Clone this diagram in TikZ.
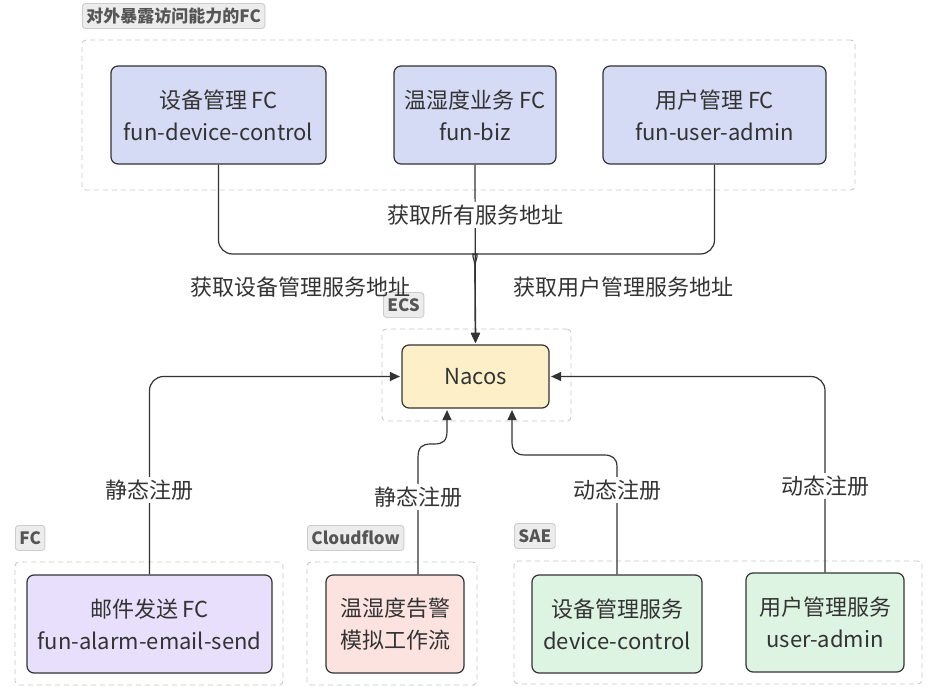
\documentclass[tikz,border=0pt]{standalone}
\usepackage{fontspec}
\setmainfont{Noto Sans CJK SC}
\usetikzlibrary{arrows.meta}
\definecolor{edge}{HTML}{333333}
\definecolor{txt}{HTML}{333333}
\definecolor{fcblue}{HTML}{D5DBF5}
\definecolor{nacosy}{HTML}{FDF0C9}
\definecolor{mailv}{HTML}{E7DFFB}
\definecolor{cfpink}{HTML}{FDE3E0}
\definecolor{saeg}{HTML}{DCF4E1}
\definecolor{grpline}{HTML}{C8C8C8}
\definecolor{tagline}{HTML}{CDCDCD}
\definecolor{tagfill}{HTML}{ECECEC}
\definecolor{tagtxt}{HTML}{555555}
\begin{document}
\begin{tikzpicture}[x=1pt,y=-1pt,
  box/.style={draw=edge, line width=1.2pt, rounded corners=7pt, align=center, inner sep=0pt, font=\fontsize{22}{32}\selectfont, text=txt},
  grp/.style={draw=grpline, dash pattern=on 5pt off 4pt, line width=0.9pt, rounded corners=4pt, inner sep=0pt},
  tag/.style={draw=tagline, fill=tagfill, rounded corners=3pt, line width=0.9pt, font=\bfseries\fontsize{17}{20}\selectfont, text=tagtxt, inner xsep=4pt, inner ysep=0pt, minimum height=25pt, anchor=west},
  lbl/.style={fill=white, inner sep=3pt, font=\fontsize{22}{24}\selectfont, text=txt},
  conn/.style={draw=edge, line width=1.2pt},
  arr/.style={conn, -{Triangle[length=10pt,width=9pt]}, shorten >=1.5pt}
]
\useasboundingbox[fill=white] (0,0) rectangle (927,687);

% groups and tags
\node[tag] (tagtop) at (82,16) {对外暴露访问能力的FC};
\node[grp, minimum width=773pt, minimum height=150pt] (gtop) at (468.5,115) {};
\node[tag] (tagecs) at (383,305) {ECS};
\node[grp, minimum width=189pt, minimum height=92pt] (gecs) at (476.5,375) {};
\node[tag] (tagfc) at (15,538) {FC};
\node[grp, minimum width=268pt, minimum height=123pt] (gfc) at (149,623.5) {};
\node[tag] (tagcf) at (307,538) {Cloudflow};
\node[grp, minimum width=170pt, minimum height=123pt] (gcf) at (392,623.5) {};
\node[tag] (tagsae) at (514,536) {SAE};
\node[grp, minimum width=408pt, minimum height=123pt] (gsae) at (718,622.5) {};

% boxes
\node[box, fill=fcblue, minimum width=215pt, minimum height=98pt] (b1) at (218.5,115) {设备管理 FC\\fun-device-control};
\node[box, fill=fcblue, minimum width=162pt, minimum height=98pt] (b2) at (475,115) {温湿度业务 FC\\fun-biz};
\node[box, fill=fcblue, minimum width=223pt, minimum height=98pt] (b3) at (714.5,115) {用户管理 FC\\fun-user-admin};
\node[box, fill=nacosy, minimum width=147pt, minimum height=63pt] (nacos) at (475.5,376.5) {Nacos};
\node[box, fill=mailv, minimum width=245pt, minimum height=98pt] (mail) at (149.5,624) {邮件发送 FC\\fun-alarm-email-send};
\node[box, fill=cfpink, minimum width=138pt, minimum height=98pt] (cf) at (395,624) {温湿度告警\\模拟工作流};
\node[box, fill=saeg, minimum width=170pt, minimum height=98pt] (dc) at (617,624) {设备管理服务\\device-control};
\node[box, fill=saeg, minimum width=158pt, minimum height=99pt] (ua) at (825,622.5) {用户管理服务\\user-admin};

% top connectors
\draw[arr] (b1.south) [rounded corners=14pt] -- (218.5,254) -- (461,254) [sharp corners] .. controls (470,254) and (475,258) .. (475,268) -- (nacos.north);
\draw[arr] (b3.south) [rounded corners=14pt] -- (714.5,254) -- (489,254) [sharp corners] .. controls (480,254) and (475,258) .. (475,268) -- (nacos.north);
\draw[arr] (b2.south) -- (nacos.north);
\node[lbl] (l1) at (475,215) {获取所有服务地址};
\node[lbl, fill=none] (l2) at (300,287) {获取设备管理服务地址};
\node[lbl, fill=none] (l3) at (623,287) {获取用户管理服务地址};

% registrations
\draw[arr, rounded corners=14pt] (mail.north) |- (nacos.west);
\node[lbl] (l4) at (149.5,490) {静态注册};

\draw[arr] ([xshift=23pt]cf.north) -- (418,458) .. controls (418,447) and (422,444) .. (431,444) -- (434,444) .. controls (443,444) and (447,441) .. (447,431) -- ([xshift=-28.5pt]nacos.south);
\node[lbl] (l5) at (418,497) {静态注册};

\draw[arr] (dc.north) -- (617,467) .. controls (617,458) and (612,455) .. (604,455) -- (525,455) .. controls (516,455) and (512,451) .. (512,442) -- ([xshift=36.5pt]nacos.south);
\node[lbl] (l6) at (617,490) {动态注册};

\draw[arr, rounded corners=14pt] (ua.north) |- (nacos.east);
\node[lbl] (l7) at (825,486) {动态注册};
\end{tikzpicture}
\end{document}
